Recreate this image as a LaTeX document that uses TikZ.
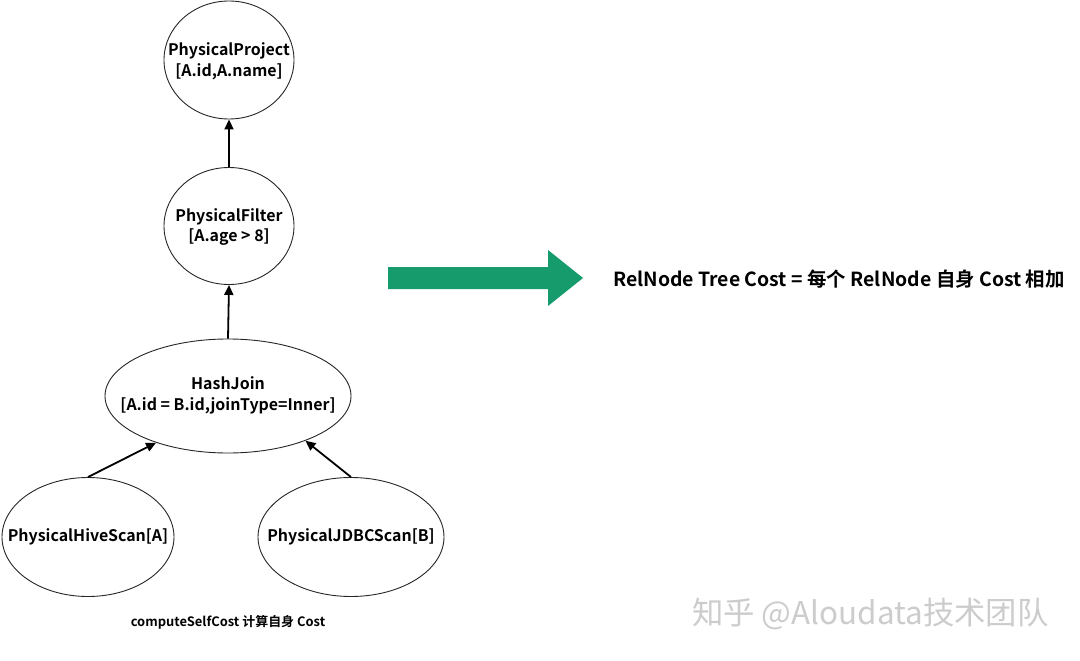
\documentclass[tikz,border=0pt]{standalone}
\usepackage{fontspec}
\setmainfont{Noto Sans CJK SC}[BoldFont={Noto Sans CJK SC Bold}]
\usetikzlibrary{arrows.meta,shapes.geometric}
\definecolor{arrowgreen}{RGB}{22,155,108}
\tikzset{
  opshape/.style={ellipse,draw=black!85,line width=0.9bp,inner sep=0pt},
  optext/.style={font=\bfseries\fontsize{16}{21}\selectfont,align=center,inner sep=0pt},
  flow/.style={line width=1.8bp,-{Triangle[length=10bp,width=9bp]}},
}
\begin{document}
\begin{tikzpicture}[x=1bp,y=-1bp]
\useasboundingbox (0,0) rectangle (1080,661);
\node[opshape,minimum width=130bp,minimum height=118bp] (proj) at (229,60) {};
\node[optext] (projT) at (229,61) {PhysicalProject\\{}[A.id,A.name]};
\node[opshape,minimum width=130bp,minimum height=117bp] (filt) at (229,226) {};
\node[optext] (filtT) at (229,227) {PhysicalFilter\\{}[A.age > 8]};
\node[opshape,minimum width=246bp,minimum height=114bp] (join) at (228,396) {};
\node[optext] (joinT) at (228,395) {HashJoin\\{}[A.id = B.id,joinType=Inner]};
\node[opshape,minimum width=172bp,minimum height=119bp] (hive) at (88,537) {};
\node[optext] (hiveT) at (hive) {PhysicalHiveScan[A]};
\node[opshape,minimum width=186bp,minimum height=119bp] (jdbc) at (351,537) {};
\node[optext] (jdbcT) at (jdbc) {PhysicalJDBCScan[B]};
\draw[flow] (filt.north) -- (proj.south);
\draw[flow] (join.north) -- (filt.south);
\draw[flow] (hive.north) -- (join.-147);
\draw[flow] (jdbc.north) -- (join.-30);
\node[font=\bfseries\fontsize{13}{15}\selectfont] (cap) at (228,622) {computeSelfCost 计算自身 Cost};
\fill[arrowgreen] (388,267) -- (548,267) -- (548,250) -- (583,278) -- (548,306) -- (548,289) -- (388,289) -- cycle;
\node[font=\bfseries\fontsize{19.5}{22}\selectfont,anchor=west,inner sep=0pt] (sum) at (613,279) {RelNode Tree Cost = 每个 RelNode 自身 Cost 相加};
\node[font=\fontsize{31.5}{33}\selectfont,text=black!20,anchor=west,inner sep=0pt] (wm) at (692,614) {知乎 @Aloudata技术团队};
\end{tikzpicture}
\end{document}
